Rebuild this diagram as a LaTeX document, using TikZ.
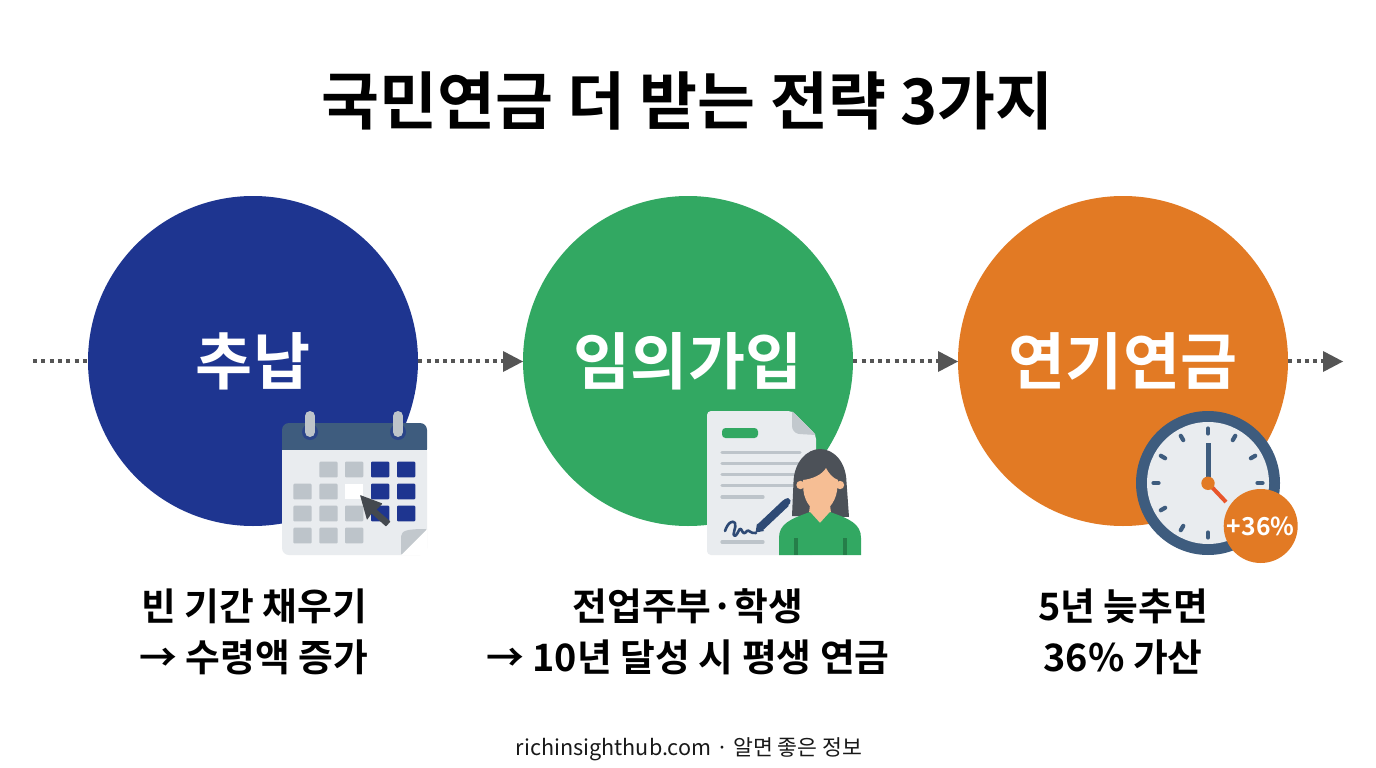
\documentclass[tikz,border=0pt]{standalone}
\usepackage{fontspec}
\setmainfont{Noto Sans CJK KR}
\newfontfamily\krb{Noto Sans CJK KR Bold}
\usetikzlibrary{arrows.meta,calc}
\definecolor{navy}{HTML}{1E3590}
\definecolor{grn}{HTML}{32A862}
\definecolor{org}{HTML}{E27A24}
\definecolor{slate}{HTML}{3E5C7E}
\definecolor{paper}{HTML}{E9ECEF}
\definecolor{cell}{HTML}{BDC4CA}
\definecolor{fold}{HTML}{C2C8CD}
\definecolor{ink}{HTML}{555555}
\definecolor{hair}{HTML}{4C5158}
\definecolor{skin}{HTML}{F6BE94}
\definecolor{pen}{HTML}{2E4A75}
\definecolor{hand}{HTML}{E8552B}
\tikzset{
 x=1pt,y=-1pt,
 stage/.style={circle,minimum size=330pt,inner sep=0pt,text=white,font=\krb\fontsize{62}{70}\selectfont},
 flow/.style={draw=ink,line width=4pt,dash pattern=on 4pt off 4.3pt},
 tip/.style={fill=ink,draw=none},
 capt/.style={align=center,font=\krb\fontsize{37.8}{51}\selectfont,text=black},
 tile/.style={fill=cell,rounded corners=1pt},
 bluetile/.style={fill=navy,rounded corners=1pt},
 dline/.style={line width=3.2pt,line cap=round,draw=cell},
 tick/.style={line width=4.2pt,line cap=round,draw=slate},
}
\newcommand{\tl}[3]{\fill[#1] (#2,#3) rectangle ++(18.4,15.6);}
\begin{document}
\begin{tikzpicture}
\useasboundingbox (0,0) rectangle (1376,768);
\fill[white] (0,0) rectangle (1376,768);
\node[font=\krb\fontsize{63}{70}\selectfont] (title) at (687.5,101) {국민연금 더 받는 전략 3가지};
\coordinate (s) at (33,361);
\coordinate (e) at (1323,361);
\coordinate (abe) at (503,361);
\coordinate (bce) at (938,361);
\node[stage,fill=navy] (a) at (253,361) {추납};
\node[stage,fill=grn] (b) at (688,361) {임의가입};
\node[stage,fill=org] (c) at (1123,361) {연기연금};
\draw[flow] (s) -- (a.west);
\draw[flow] (a.east) -- (abe);
\draw[flow] (b.east) -- (bce);
\draw[flow] (c.east) -- (e);
\fill[tip] (503,351) -- (523,361.5) -- (503,372) -- cycle;
\fill[tip] (938,351) -- (958,361.5) -- (938,372) -- cycle;
\fill[tip] (1323,351) -- (1343,361.5) -- (1323,372) -- cycle;
% calendar
\fill[paper,rounded corners=7pt] (282,445) rectangle (427,555);
\fill[slate,rounded corners=7pt] (282,423) rectangle (427,456);
\fill[paper] (282,450) rectangle (427,460);
\fill[white] (401,555) -- (427,555) -- (427,529) -- cycle;
\fill[fold,rounded corners=1pt] (401,555) -- (401,537) .. controls (402,531) and (405,529) .. (427,529) -- cycle;
\fill[navy!60!slate] (310,432) circle (8);
\fill[navy!60!slate] (398,432) circle (8);
\draw[line width=10pt,line cap=round,draw=cell] (310,416) -- (310,432);
\draw[line width=10pt,line cap=round,draw=cell] (398,416) -- (398,432);
\tl{tile}{319.3}{461.7}\tl{tile}{345}{461.7}\tl{bluetile}{371}{461.7}\tl{bluetile}{397}{461.7}
\tl{tile}{293.3}{483.7}\tl{tile}{319.3}{483.7}\tl{white}{345}{483.7}\tl{bluetile}{371}{483.7}\tl{bluetile}{397}{483.7}
\tl{tile}{293.3}{505.7}\tl{tile}{319.3}{505.7}\tl{tile}{345}{505.7}\tl{bluetile}{371}{505.7}\tl{bluetile}{397}{505.7}
\tl{tile}{293.3}{527.7}\tl{tile}{319.3}{527.7}\tl{tile}{345}{527.7}
\fill[hair!90!black,rounded corners=0.6pt] (360,495) -- (382.5,503.5) -- (376.5,509.5) -- (390.5,521.5) -- (386,526.5) -- (371.5,513.5) -- (367,520) -- cycle;
% document
\fill[paper,rounded corners=4pt] (707,411) -- (792,411) -- (816,435) -- (816,555) -- (707,555) -- cycle;
\fill[fold,rounded corners=1pt] (792,411) -- (816,435) -- (799,434) .. controls (795,433) and (792,430) .. (792,425) -- cycle;
\fill[grn,rounded corners=3.5pt] (722,428) rectangle (758,438);
\draw[dline] (722,452.7) -- (800,452.7);
\draw[dline] (722,463.7) -- (800,463.7);
\draw[dline] (722,474.7) -- (800,474.7);
\draw[dline] (722,485.7) -- (800,485.7);
\draw[dline] (722,497) -- (763,497);
\draw[dline] (722,542) -- (763,542);
\draw[pen,line width=2.6pt,line cap=round,line join=round] (725,531) .. controls (728,522) and (733,520) .. (735,523) .. controls (737,527) and (731,536) .. (735,536) .. controls (738,535) and (739,527) .. (741,529) .. controls (743,533) and (744,535) .. (747,531) .. controls (749,529) and (750,534) .. (756,533);
\draw[pen,line width=8pt] (760,527.5) -- (786,503);
\fill[pen] (785,499) -- (788,498) -- (790.5,500.5) -- (790,503.5) -- (786,507) -- (781,502.5) -- cycle;
\fill[pen] (755.5,532.5) -- (757,523.5) -- (764,531) -- cycle;
% person
\fill[hair] (792,516) -- (793.5,482) .. controls (794,462) and (807,449) .. (820,449) .. controls (834,449) and (846,462) .. (846.5,482) -- (849,517) -- cycle;
\fill[skin] (810,505) -- (830,505) -- (831,513) -- (820,523) -- (809,513) -- cycle;
\fill[skin] (800.5,485) circle (4.2);
\fill[skin] (840,485) circle (4.2);
\fill[skin] (803,480) .. controls (812,479) and (822,475) .. (826,468) .. controls (829,474) and (833,478) .. (838,480) -- (837,491) .. controls (835,503) and (827,512) .. (820,512) .. controls (813,512) and (805,503) .. (803.5,491) -- cycle;
\fill[grn] (779,555) -- (779,538) .. controls (779,524) and (790,519) .. (810,512) -- (820,523) -- (830,512) .. controls (850,519) and (861,524) .. (861,538) -- (861,555) -- cycle;
\draw[grn!75!black,line width=3.6pt] (795.7,538) -- (795.7,555);
\draw[grn!75!black,line width=3.6pt] (845,538) -- (845,555);
% clock
\fill[slate] (1208,483) circle (72);
\fill[paper] (1208,483) circle (61);
\foreach \ang in {0,30,...,330}{
 \draw[tick] ($(1208,483)+(\ang:49.5)$) -- ($(1208,483)+(\ang:54.5)$);
}
\draw[slate,line width=5pt] (1208,483) -- (1208,443);
\draw[hand,line width=4pt] (1208,483) -- (1226,502);
\fill[org] (1208,483.3) circle (6.7);
\node[circle,fill=org,minimum size=74pt,inner sep=0pt,text=white,font=\krb\fontsize{24.7}{28}\selectfont] (badge) at (1260.7,526) {+36\%};
% captions
\node[capt,anchor=center] (ca) at (254,631.5) {빈 기간 채우기\\→ 수령액 증가};
\node[capt,anchor=center] (cb) at (688,631.5) {전업주부·학생\\→ 10년 달성 시 평생 연금};
\node[capt,anchor=center] (cc) at (1123,631.5) {5년 늦추면\\36\% 가산};
\node[font=\fontsize{21.6}{26}\selectfont,text=black!90] (foot) at (689,749) {richinsighthub.com · 알면 좋은 정보};
\end{tikzpicture}
\end{document}
